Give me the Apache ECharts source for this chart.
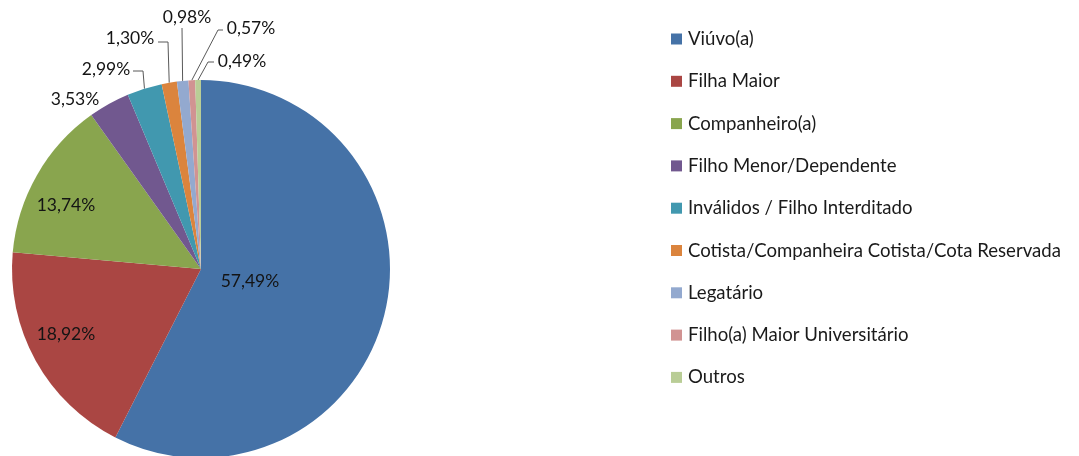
<!DOCTYPE html>
<html>
<head>
<meta charset="utf-8">
<script src="https://cdn.jsdelivr.net/npm/echarts@6/dist/echarts.min.js"></script>
<style>
html,body{margin:0;padding:0;background:#fff;}
#chart{width:1079px;height:456px;}
</style>
</head>
<body>
<div id="chart"></div>
<script>
// ---- data ----
const categories = [
  'Viúvo(a)',
  'Filha Maior',
  'Companheiro(a)',
  'Filho Menor/Dependente',
  'Inválidos / Filho Interditado',
  'Cotista/Companheira Cotista/Cota Reservada',
  'Legatário',
  'Filho(a) Maior Universitário',
  'Outros'
];
const values = [57.49, 18.92, 13.74, 3.53, 2.99, 1.30, 0.98, 0.57, 0.49];

// ---- styles / layout ----
const colors = ['#4572A7','#AA4643','#89A54E','#71588F','#4198AF','#DB843D','#93A9CF','#D19392','#B9CD96'];
const CX = 201, CY = 269, R = 189;
const FONT = 'Lato';
// label centres (pixels) and leader-line bends
const labelPos = [[250,281],[66,334],[66,205],[75,99],[106,69],[130,38],[187,17],[251,28],[242,61]];
const labelBends = [null,null,null,null,
  [[143,71],[133,71]],
  [[168,42],[158,42]],
  [[182,28]],
  [[218,30],[223,30]],
  [[208,62],[214,62]]
];

const total = values.reduce((a,b)=>a+b,0);
function anchorOf(i){
  let cum = 0;
  for (let k=0;k<i;k++) cum += values[k];
  const mid = (cum + values[i]/2)/total*Math.PI*2;
  return [CX + R*Math.sin(mid), CY - R*Math.cos(mid)];
}
function fmt(v){ return v.toFixed(2).replace('.', ',') + '%'; }

const data = categories.map((name,i)=>({
  name: name,
  value: values[i],
  itemStyle: {color: colors[i]},
  labelLine: {show: !!labelBends[i]}
}));

const chart = echarts.init(document.getElementById('chart'), null, {renderer:'canvas'});
chart.setOption({
  animation: false,
  backgroundColor: '#ffffff',
  legend: {
    orient: 'vertical',
    left: 666,
    top: 24,
    itemWidth: 11,
    itemHeight: 11,
    itemGap: 22.3,
    icon: 'rect',
    selectedMode: false,
    textStyle: {fontFamily: FONT, fontSize: 18.6, color: '#1a1a1a', lineHeight: 20, padding: [0,0,0,1]},
    data: categories
  },
  series: [{
    type: 'pie',
    center: [CX, CY],
    radius: [0, R],
    startAngle: 90,
    clockwise: true,
    avoidLabelOverlap: false,
    silent: true,
    itemStyle: {borderWidth: 0},
    label: {
      show: true,
      position: 'outside',
      formatter: p => fmt(p.value),
      fontFamily: FONT,
      fontSize: 17.5,
      color: '#141414'
    },
    labelLine: {show: true, lineStyle: {color: '#595959', width: 1}},
    labelLayout: function(params){
      const i = params.dataIndex;
      const out = {x: labelPos[i][0], y: labelPos[i][1], align: 'center', verticalAlign: 'middle'};
      if (labelBends[i]) {
        out.labelLinePoints = [anchorOf(i)].concat(labelBends[i]);
      }
      return out;
    },
    data: data
  }]
});
</script>
</body>
</html>
